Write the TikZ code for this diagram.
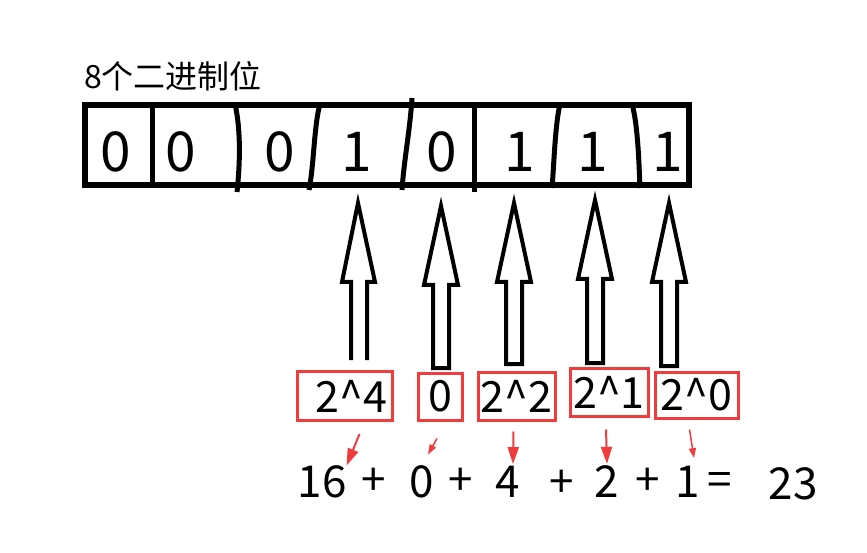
\documentclass[tikz,border=0pt]{standalone}
\usepackage{fontspec}
\setmainfont{Noto Sans CJK SC}
\usetikzlibrary{arrows.meta}
\definecolor{boxred}{RGB}{240,60,60}
\tikzstyle{bitbox} = [draw=black, line width=6pt, minimum width=604pt, minimum height=80pt, inner sep=0pt]
\tikzstyle{bit} = [font=\fontsize{55}{55}\selectfont, inner sep=0pt]
\tikzstyle{divider} = [line width=5pt]
\tikzstyle{uparrow} = [draw=black, line width=4pt, fill=white, line join=miter]
\tikzstyle{weightbox} = [draw=boxred, line width=3pt, inner sep=0pt, font=\fontsize{43}{43}\selectfont]
\tikzstyle{sumtext} = [font=\fontsize{44}{44}\selectfont, inner sep=0pt]
\tikzstyle{redarrow} = [draw=boxred, line width=2pt, -{Triangle[length=17pt,width=11pt]}]
\tikzstyle{smallarrow} = [draw=boxred, line width=1.5pt, -{Triangle[length=10pt,width=7pt]}]

\begin{document}
\begin{tikzpicture}[x=1pt, y=-1pt]
\useasboundingbox (0,0) rectangle (867,553);
\node[font=\fontsize{32}{32}\selectfont, anchor=west, inner sep=0pt] (title) at (84,76) {8个二进制位};
\node[bitbox] (reg) at (387,145.5) {};
% dividers between the bits
\draw[divider] (152,105) -- (152,186);
\draw[divider] (235,104) .. controls (241,130) and (240,165) .. (237,192);
\draw[divider] (320,104) .. controls (314,125) and (314,165) .. (309,190);
\draw[divider] (412,98) .. controls (410,130) and (404,160) .. (402,190);
\draw[divider] (474,105) -- (474,192);
\draw[divider] (560,104) .. controls (555,125) and (554,165) .. (552,188);
\draw[divider] (632,104) .. controls (638,125) and (639,165) .. (640,188);
% the bits
\foreach \x/\b [count=\i] in {116/0,181/0,280/0,357/1,442/0,520/1,593/1,668/1}
  \node[bit] (d\i) at (\x,152) {\b};
% hollow arrows
\draw[uparrow] (351,360) -- (351,282) -- (342,282) -- (358,203) -- (375,282) -- (367,282) -- (367,360);
\foreach \x/\tip/\base/\bot in {441/206/285/368,514/203/282/364,595/200/279/363,669/203/282/366}
  \draw[uparrow] (\x-8,\bot) -- (\x-8,\base) -- (\x-17,\base) -- (\x,\tip)
    -- (\x+17,\base) -- (\x+8,\base) -- (\x+8,\bot) -- cycle;
% weights
\node[weightbox, minimum width=95pt, minimum height=49pt] (w4) at (344.5,396) {\hspace{14pt}2\textasciicircum4};
\node[weightbox, minimum width=44pt, minimum height=47pt] (w3) at (440,396.5) {0};
\node[weightbox, minimum width=77pt, minimum height=48pt] (w2) at (516.5,396) {2\textasciicircum2};
\node[weightbox, minimum width=78pt, minimum height=48pt] (w1) at (609,392) {2\textasciicircum1};
\node[weightbox, minimum width=83pt, minimum height=46pt] (w0) at (696.5,395) {2\textasciicircum0};
% the sum
\node[sumtext] (n16) at (322,482) {16};
\node[sumtext] (p1) at (374,482) {+};
\node[sumtext] (n0) at (422,482) {0};
\node[sumtext] (p2) at (461,482) {+};
\node[sumtext] (n4) at (508,482) {4};
\node[sumtext] (p3) at (562,484) {+};
\node[sumtext] (n2) at (607,482) {2};
\node[sumtext] (p4) at (648,482) {+};
\node[sumtext] (n1) at (688,482) {1};
\node[sumtext] (eq) at (720,484) {=};
\node[sumtext] (res) at (793,484) {23};
% red arrows
\draw[redarrow] ([xshift=15pt,yshift=-12pt]w4.south) -- (n16.north east);
\draw[smallarrow] ([xshift=-3pt,yshift=-17pt]w3.south) -- ([xshift=6pt,yshift=11pt]n0.north);
\draw[redarrow] ([xshift=-3pt,yshift=-10pt]w2.south) -- ([xshift=5pt,yshift=2pt]n4.north);
\draw[redarrow] ([xshift=-3pt,yshift=-12pt]w1.south) -- ([yshift=2pt]n2.north);
\draw[smallarrow] ([xshift=-7pt,yshift=-10pt]w0.south) -- ([xshift=6pt,yshift=8pt]n1.north);
\end{tikzpicture}
\end{document}
